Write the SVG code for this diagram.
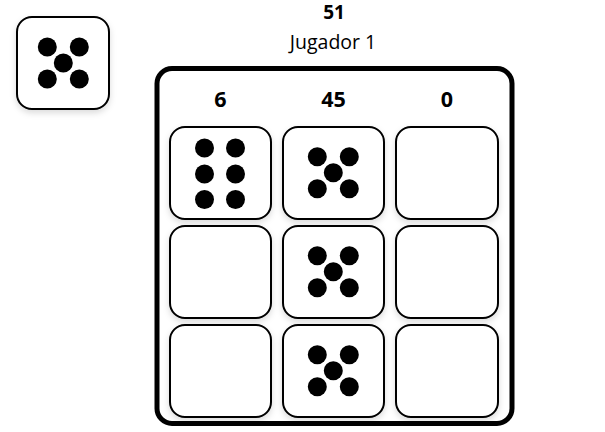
<svg xmlns="http://www.w3.org/2000/svg" width="605" height="432" viewBox="0 0 605 432">
<style>
text{font-family:"Open Sans","Noto Sans","Liberation Sans",sans-serif;text-anchor:middle;fill:#000}
.b{font-weight:700;font-size:21.500px}
.die{fill:#fff;stroke:#000;stroke-width:2;filter:url(#s)}
.cell{fill:#fff;stroke:#000;stroke-width:2;filter:url(#s)}
circle{fill:#000}
</style>
<defs>
<filter id="s" x="-20%" y="-20%" width="140%" height="140%"><feDropShadow dx="0" dy="3" stdDeviation="3" flood-color="#000" flood-opacity="0.14"/></filter>
<g id="five"><circle cx="-16" cy="-16" r="9.5"/><circle cx="16" cy="-16" r="9.5"/><circle cx="0" cy="0" r="9.5"/><circle cx="-16" cy="16" r="9.5"/><circle cx="16" cy="16" r="9.5"/></g>
</defs>
<rect width="605" height="432" fill="#fff"/>
<g id="current-die"><rect class="die" x="17" y="17" width="92" height="92" rx="15"/><use href="#five" x="63.300" y="63"/></g>
<g id="header"><text x="334" y="19" font-size="19" font-weight="700">51</text><text x="333" y="49" font-size="19.500">Jugador 1</text></g>
<g id="board"><rect x="157" y="68.500" width="355" height="355" rx="15" fill="#fff" stroke="#000" stroke-width="5"/>
<text class="b" x="220.500" y="107">6</text><text class="b" x="333.500" y="107">45</text><text class="b" x="447" y="107">0</text></g>
<g id="cell-1-1"><rect class="cell" x="170" y="127" width="101" height="92" rx="15"/><circle cx="204.500" cy="148" r="9.500"/><circle cx="235.500" cy="148" r="9.500"/><circle cx="204.500" cy="174" r="9.500"/><circle cx="235.500" cy="174" r="9.500"/><circle cx="204.500" cy="199.500" r="9.500"/><circle cx="235.500" cy="199.500" r="9.500"/></g>
<g id="cell-1-2"><rect class="cell" x="283" y="127" width="101" height="92" rx="15"/><use href="#five" x="333.300" y="172.700"/></g>
<g id="cell-1-3"><rect class="cell" x="396" y="127" width="102" height="92" rx="15"/></g>
<g id="cell-2-1"><rect class="cell" x="170" y="226" width="101" height="92" rx="15"/></g>
<g id="cell-2-2"><rect class="cell" x="283" y="226" width="101" height="92" rx="15"/><use href="#five" x="333.300" y="271.700"/></g>
<g id="cell-2-3"><rect class="cell" x="396" y="226" width="102" height="92" rx="15"/></g>
<g id="cell-3-1"><rect class="cell" x="170" y="325" width="101" height="92" rx="15"/></g>
<g id="cell-3-2"><rect class="cell" x="283" y="325" width="101" height="92" rx="15"/><use href="#five" x="333.300" y="370.700"/></g>
<g id="cell-3-3"><rect class="cell" x="396" y="325" width="102" height="92" rx="15"/></g>
<g id="connectors"></g>
</svg>
